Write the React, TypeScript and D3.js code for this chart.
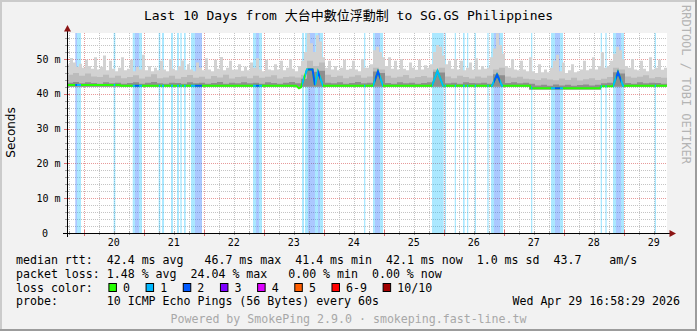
import React from 'react';
import * as d3 from 'd3';

const W = 697;
const H = 331;
const PLOT_L = 67;
const PLOT_R = 667;
const PLOT_T = 33;
const PLOT_B = 233;
const DAY_START = 19.72;
const DAY_END = 29.72;
const Y_MAX = 57.47;

const dayLabels = [20, 21, 22, 23, 24, 25, 26, 27, 28, 29];
const yTickValues = [0, 10, 20, 30, 40, 50];
const yTickLabels = ['0', '10 m', '20 m', '30 m', '40 m', '50 m'];

// median rtt breakpoints (day of month, ms)
const medianDays = [19.72, 20.603, 20.62, 23.537, 23.587, 23.62, 23.72, 23.812, 23.853, 23.903, 23.987, 24.82, 24.903, 24.987, 25.803, 25.895, 25.987, 26.803, 26.887, 26.97, 27.437, 27.453, 28.603, 28.62, 28.82, 28.903, 28.987, 29.72];
const medianMs = [42.5, 42.5, 42.3, 42.3, 41.6, 41.9, 47.0, 47.0, 42.5, 46.3, 42.3, 42.3, 46.4, 42.3, 42.3, 46.5, 42.3, 42.3, 45.5, 42.3, 42.3, 41.6, 41.6, 42.2, 42.2, 46.2, 42.3, 42.3];

// packet loss periods (day start, day end, lost pings of 10)
const lossStart = [19.858, 19.887, 20.498, 20.815, 20.853, 20.92, 21.248, 21.303, 21.453, 21.553, 21.608, 21.67, 21.787, 21.853, 22.82, 22.87, 22.92, 23.637, 23.687, 23.737, 23.853, 23.903, 23.937, 24.67, 24.82, 24.853, 24.937, 25.803, 26.015, 26.182, 26.32, 26.387, 26.515, 26.725, 26.787, 26.837, 26.937, 27.453, 27.787, 27.853, 27.937, 28.615, 28.692, 28.82, 28.87, 28.953, 29.515];
const lossEnd = [19.887, 19.953, 20.525, 20.853, 20.92, 20.97, 21.275, 21.337, 21.487, 21.587, 21.632, 21.698, 21.853, 21.97, 22.87, 22.92, 22.97, 23.67, 23.737, 23.853, 23.903, 23.937, 23.987, 24.692, 24.853, 24.937, 24.987, 25.998, 26.037, 26.203, 26.348, 26.408, 26.537, 26.748, 26.837, 26.937, 26.987, 27.475, 27.853, 27.937, 27.987, 28.637, 28.715, 28.87, 28.953, 29.003, 29.537];
const lossLevel = [2, 1, 1, 1, 2, 1, 1, 1, 1, 1, 1, 1, 1, 2, 1, 2, 1, 1, 1, 2, 1, 2, 1, 1, 1, 2, 1, 1, 1, 1, 1, 1, 1, 1, 1, 2, 1, 1, 1, 2, 1, 1, 1, 1, 2, 1, 1];

// smoke: max ping per bin (200 bins over the 10 days)
const smokeMax = [
  48.5, 50.3, 49.0, 47.8, 48.6, 47.5, 49.8, 48.0, 47.2, 50.5,
  47.0, 47.8, 51.0, 46.8, 49.5, 47.2, 46.5, 47.5, 50.5, 46.8,
  47.2, 49.8, 46.5, 47.8, 47.0, 51.2, 46.8, 48.0, 46.5, 47.5,
  46.8, 49.5, 47.0, 46.5, 50.0, 47.2, 46.8, 48.0, 49.6, 46.9,
  48.5, 47.0, 46.5, 49.0, 47.5, 46.8, 50.2, 47.0, 46.5, 49.8,
  47.2, 50.6, 46.8, 47.5, 49.5, 46.9, 47.0, 48.5, 46.6, 47.8,
  46.8, 49.0, 47.5, 50.2, 47.0, 46.5, 49.8, 47.0, 46.8, 48.5,
  47.0, 49.5, 46.8, 47.5, 50.0, 47.2, 46.5, 48.0, 49.5, 52.0,
  57.4, 54.5, 52.0, 56.8, 55.0, 50.5, 47.5, 49.5, 47.0, 48.0,
  46.8, 47.5, 49.8, 46.9, 47.2, 49.5, 47.0, 46.5, 50.0, 47.5,
  47.5, 48.5, 52.5, 53.5, 52.0, 50.5, 48.0, 50.5, 47.2, 49.5,
  47.0, 50.0, 47.2, 46.8, 49.0, 47.5, 46.9, 49.8, 47.0, 48.2,
  47.5, 48.5, 52.0, 54.0, 53.5, 51.0, 48.5, 49.5, 47.2, 50.0,
  47.0, 49.5, 46.8, 47.5, 49.0, 46.9, 50.2, 47.0, 48.0, 47.2,
  47.5, 50.5, 53.0, 57.4, 54.0, 51.5, 48.0, 47.5, 50.0, 47.0,
  46.8, 49.5, 47.0, 46.5, 50.5, 46.5, 46.0, 48.5, 46.2, 47.0,
  46.2, 47.5, 49.5, 51.2, 46.5, 49.0, 46.0, 46.8, 48.5, 46.2,
  46.5, 47.0, 49.5, 46.8, 47.2, 50.5, 47.0, 48.0, 52.0, 47.5,
  48.0, 49.5, 51.5, 53.5, 52.5, 50.0, 48.0, 47.5, 50.0, 47.0,
  46.8, 49.5, 47.2, 46.5, 50.5, 47.0, 47.5, 49.8, 46.9, 47.5,
];

// smoke: upper-middle pings (100 bins)
const smokeMid = [
  45.5, 46.0, 45.2, 45.8, 45.0, 44.8, 45.5, 44.6, 45.2, 44.5,
  44.8, 45.3, 44.4, 44.9, 45.6, 44.5, 44.7, 45.2, 44.3, 44.8,
  45.4, 44.6, 44.9, 44.3, 45.1, 44.7, 45.5, 44.4, 44.8, 45.0,
  44.5, 45.2, 44.6, 44.9, 45.3, 44.4, 44.8, 45.0, 44.7, 45.5,
  49.5, 48.0, 49.0, 45.5, 44.8, 45.2, 44.5, 44.9, 45.3, 44.6,
  45.0, 47.5, 47.0, 45.2, 44.6, 44.9, 45.4, 44.5, 44.8, 45.1,
  44.7, 47.0, 47.5, 45.0, 44.5, 45.2, 44.8, 44.4, 45.0, 44.6,
  45.2, 47.0, 47.5, 45.0, 44.6, 44.9, 44.3, 44.2, 44.0, 44.5,
  44.1, 43.9, 44.4, 44.0, 44.6, 43.8, 44.2, 44.5, 44.0, 44.3,
  44.8, 47.5, 47.0, 45.0, 44.6, 44.9, 45.3, 44.5, 44.8, 44.6,
];

// smoke: pings close to the median (100 bins)
const smokeDark = [
  43.2, 43.4, 43.0, 43.3, 43.1, 42.9, 43.3, 43.0, 43.2, 42.9,
  43.1, 43.3, 42.9, 43.2, 43.4, 43.0, 42.9, 43.2, 43.1, 42.9,
  43.3, 43.0, 43.2, 42.9, 43.1, 43.4, 42.9, 43.2, 43.0, 43.3,
  43.0, 43.2, 42.9, 43.3, 43.1, 42.9, 43.2, 43.4, 43.0, 44.3,
  47.3, 46.3, 46.6, 43.2, 43.0, 43.3, 42.9, 43.1, 43.4, 43.0,
  43.2, 46.4, 46.0, 43.1, 42.9, 43.3, 43.0, 43.2, 42.9, 43.1,
  43.3, 46.3, 46.1, 43.0, 43.2, 42.9, 43.3, 43.1, 43.0, 43.2,
  42.9, 45.6, 45.3, 43.1, 43.3, 43.0, 43.2, 42.9, 42.4, 42.6,
  42.3, 42.7, 42.4, 42.6, 42.3, 42.5, 42.7, 42.4, 42.6, 43.0,
  43.2, 46.2, 45.8, 43.1, 42.9, 43.3, 43.0, 43.2, 43.1, 42.9,
];

// smoke: min ping (100 bins)
const smokeMin = [
  42.0, 42.0, 42.0, 42.0, 42.0, 42.0, 42.0, 42.0, 42.0, 42.0,
  42.0, 42.0, 42.0, 42.0, 42.0, 42.0, 42.0, 42.0, 42.0, 42.0,
  42.0, 42.0, 42.0, 42.0, 42.0, 42.0, 42.0, 42.0, 42.0, 42.0,
  42.0, 42.0, 42.0, 42.0, 42.0, 42.0, 42.0, 42.0, 42.0, 42.0,
  42.0, 42.0, 42.0, 42.0, 42.0, 42.0, 42.0, 42.0, 42.0, 42.0,
  42.0, 42.0, 42.0, 42.0, 42.0, 42.0, 42.0, 42.0, 42.0, 42.0,
  42.0, 42.0, 42.0, 42.0, 42.0, 42.0, 42.0, 42.0, 42.0, 42.0,
  42.0, 42.0, 42.0, 42.0, 42.0, 42.0, 42.0, 41.2, 41.2, 41.2,
  41.2, 41.2, 41.2, 41.2, 41.2, 41.2, 41.2, 41.2, 41.2, 42.0,
  42.0, 42.0, 42.0, 42.0, 42.0, 42.0, 42.0, 42.0, 42.0, 42.0,
];

const lossColors = ['#26ff00', '#00b8ff', '#0059ff', '#7e00ff', '#dd00ff', '#ff5e00', '#ff0000', '#a10000'];
const lossLabels = ['0', '1', '2', '3', '4', '5', '6-9', '10/10'];

const statsRtt = ['42.4 ms avg', '46.7 ms max', '41.4 ms min', '42.1 ms now', '1.0 ms sd', '43.7', 'am/s'];
const statsRttCols = [13, 27, 40, 53, 66, 77, 85];
const statsLoss = ['1.48 % avg', '24.04 % max', '0.00 % min', '0.00 % now'];
const statsLossCols = [13, 25, 39, 51];

const MONO = "'DejaVu Sans Mono', 'Noto Sans CJK TC', monospace";
const CW = 6.98;

export default function App() {
  const x = d3.scaleLinear().domain([DAY_START, DAY_END]).range([PLOT_L, PLOT_R]);
  const y = d3.scaleLinear().domain([0, Y_MAX]).range([PLOT_B, PLOT_T]);

  const area = d3
    .area<{ t: number; lo: number; hi: number }>()
    .curve(d3.curveStepAfter)
    .x((d) => x(d.t))
    .y0((d) => y(d.lo))
    .y1((d) => y(d.hi));

  const nMax = smokeMax.length;
  const nMid = smokeMid.length;
  const maxRows = smokeMax.map((v, i) => ({
    t: DAY_START + (i * (DAY_END - DAY_START)) / nMax,
    lo: smokeMin[Math.floor((i * nMid) / nMax)],
    hi: v,
  }));
  maxRows.push({ ...maxRows[maxRows.length - 1], t: DAY_END });
  const midRows = smokeMid.map((v, i) => ({
    t: DAY_START + (i * (DAY_END - DAY_START)) / nMid,
    lo: smokeMin[i],
    hi: v,
  }));
  midRows.push({ ...midRows[midRows.length - 1], t: DAY_END });
  const darkRows = smokeDark.map((v, i) => ({
    t: DAY_START + (i * (DAY_END - DAY_START)) / nMid,
    lo: smokeMin[i],
    hi: v,
  }));
  darkRows.push({ ...darkRows[darkRows.length - 1], t: DAY_END });

  const medianPts: [number, number][] = medianDays.map((d, i) => [d, medianMs[i]]);
  const line = d3
    .line<[number, number]>()
    .x((d) => x(d[0]))
    .y((d) => y(d[1]));
  const medianPath = line(medianPts) || '';

  // grid
  const hMinor = d3.range(2, Y_MAX, 2).filter((v) => v % 10 !== 0);
  const hMajor = yTickValues.filter((v) => v > 0);
  const vMinor = d3.range(Math.ceil(DAY_START * 4) / 4, DAY_END, 0.25).filter((v) => Math.abs(v - Math.round(v)) > 1e-6);
  const vMajor = dayLabels;
  const px = (v: number) => Math.round(v) + 0.5;

  const arrowColor = '#8c1414';

  // legend layout
  const boxX: number[] = [];
  let bx = 108.4;
  lossLabels.forEach((l) => {
    boxX.push(bx);
    bx += 14.6 + l.length * CW + 15.6;
  });

  const rowBase = [263.9, 277.5, 291.5, 305.2];

  return (
    <svg width={W} height={H} style={{ position: 'absolute', left: 0, top: 0 }} xmlns="http://www.w3.org/2000/svg">
      <defs>
        {lossStart.map((s, i) => (
          <clipPath id={`lc${i}`} key={i}>
            <rect x={x(s)} y={PLOT_T - 5} width={x(lossEnd[i]) - x(s)} height={PLOT_B - PLOT_T + 10} />
          </clipPath>
        ))}
      </defs>
      {/* background and 3D border */}
      <rect x={0} y={0} width={W} height={H} fill="#f2f2f2" />
      <rect x={0} y={0} width={W} height={2} fill="#cbcbcb" />
      <rect x={0} y={0} width={2} height={H} fill="#cbcbcb" />
      <rect x={W - 2} y={0} width={2} height={H} fill="#9c9c9c" />
      <rect x={0} y={H - 2} width={W} height={2} fill="#9c9c9c" />

      {/* canvas */}
      <rect x={PLOT_L} y={PLOT_T} width={PLOT_R - PLOT_L} height={PLOT_B - PLOT_T} fill="#ffffff" />

      {/* grid */}
      <g shapeRendering="crispEdges" strokeWidth={1}>
        {hMinor.map((v) => (
          <line key={`hm${v}`} x1={PLOT_L} x2={PLOT_R} y1={px(y(v))} y2={px(y(v))} stroke="#c4c4c4" strokeDasharray="1,1" />
        ))}
        {vMinor.map((v) => (
          <line key={`vm${v}`} x1={px(x(v))} x2={px(x(v))} y1={PLOT_T} y2={PLOT_B} stroke="#c4c4c4" strokeDasharray="1,1" />
        ))}
        {hMajor.map((v) => (
          <line key={`hM${v}`} x1={PLOT_L} x2={PLOT_R} y1={px(y(v))} y2={px(y(v))} stroke="#e89a9a" strokeDasharray="1,1" />
        ))}
        {vMajor.map((v) => (
          <line key={`vM${v}`} x1={px(x(v))} x2={px(x(v))} y1={PLOT_T} y2={PLOT_B} stroke="#e89a9a" strokeDasharray="1,1" />
        ))}
      </g>

      {/* loss stripes */}
      <g>
        {lossStart.map((s, i) => (
          <rect
            key={`ls${i}`}
            x={x(s)}
            y={PLOT_T}
            width={x(lossEnd[i]) - x(s)}
            height={PLOT_B - PLOT_T}
            fill={lossColors[lossLevel[i]]}
            fillOpacity={0.33}
          />
        ))}
      </g>

      {/* smoke */}
      <path d={area(maxRows) || ''} fill="#d2d2d2" />
      <path d={area(midRows) || ''} fill="#bcbcbc" />
      <path d={area(darkRows) || ''} fill="#8e8e8e" />

      {/* median */}
      <path d={medianPath} fill="none" stroke={lossColors[0]} strokeWidth={2} />
      {lossStart.map((s, i) => (
        <path key={`ml${i}`} d={medianPath} fill="none" stroke={lossColors[lossLevel[i]]} strokeWidth={2} clipPath={`url(#lc${i})`} />
      ))}

      {/* axis ticks */}
      <g shapeRendering="crispEdges">
        {vMinor.map((v) => (
          <line key={`xt${v}`} x1={px(x(v))} x2={px(x(v))} y1={PLOT_B - 2} y2={PLOT_B + 2} stroke="#a0a0a0" />
        ))}
        {vMajor.map((v) => (
          <line key={`xT${v}`} x1={px(x(v))} x2={px(x(v))} y1={PLOT_B - 3} y2={PLOT_B + 3} stroke="#e07070" />
        ))}
        {hMinor.map((v) => (
          <line key={`yt${v}`} x1={PLOT_L - 2} x2={PLOT_L + 2} y1={px(y(v))} y2={px(y(v))} stroke="#a0a0a0" />
        ))}
        {hMajor.map((v) => (
          <line key={`yT${v}`} x1={PLOT_L - 3} x2={PLOT_L + 3} y1={px(y(v))} y2={px(y(v))} stroke="#e07070" />
        ))}
      </g>

      {/* axes */}
      <g shapeRendering="crispEdges">
        <line x1={63} x2={670} y1={PLOT_B + 0.5} y2={PLOT_B + 0.5} stroke="#000" />
        <line x1={PLOT_L + 0.5} x2={PLOT_L + 0.5} y1={237} y2={30} stroke="#000" />
      </g>
      <polygon points={`${PLOT_L + 0.5},25 ${PLOT_L - 3},31.5 ${PLOT_L + 4},31.5`} fill={arrowColor} />
      <polygon points={`676,${PLOT_B + 0.5} 669.5,${PLOT_B - 3} 669.5,${PLOT_B + 4}`} fill={arrowColor} />

      {/* y labels */}
      {yTickValues.map((v, i) => (
        <text
          key={`yl${v}`}
          x={v === 0 ? 48 : 60.5}
          y={y(v) + 3.6}
          fontFamily={MONO}
          fontSize={10}
          textAnchor="end"
          fill="#000"
        >
          {yTickLabels[i]}
        </text>
      ))}

      {/* x labels */}
      {dayLabels.map((d) => (
        <text key={`xl${d}`} x={x(d + 0.5)} y={246.2} fontFamily={MONO} fontSize={10} textAnchor="middle" fill="#000">
          {String(d)}
        </text>
      ))}

      {/* title */}
      <text x={348.5} y={19.5} fontFamily={MONO} fontSize={13} textAnchor="middle" fill="#000">
        Last 10 Days from 大台中數位浮動制 to SG.GS Philippines
      </text>

      {/* y axis title */}
      <text
        transform="translate(15,132.5) rotate(-90)"
        fontFamily="'DejaVu Sans', sans-serif"
        fontSize={12}
        textAnchor="middle"
        fill="#000"
      >
        Seconds
      </text>

      {/* watermark */}
      <text transform="translate(682,5) rotate(90)" fontFamily={MONO} fontSize={12} fill="#b4b4b4">
        RRDTOOL / TOBI OETIKER
      </text>

      {/* legend */}
      <g fontFamily={MONO} fontSize={11.6} fill="#000">
        <text x={16} y={rowBase[0]}>median rtt:</text>
        {statsRtt.map((s, i) => (
          <text key={`sr${i}`} x={16 + statsRttCols[i] * CW} y={rowBase[0]}>
            {s}
          </text>
        ))}
        <text x={16} y={rowBase[1]}>packet loss:</text>
        {statsLoss.map((s, i) => (
          <text key={`sl${i}`} x={16 + statsLossCols[i] * CW} y={rowBase[1]}>
            {s}
          </text>
        ))}
        <text x={16} y={rowBase[2]}>loss color:</text>
        {lossLabels.map((l, i) => (
          <g key={`lg${i}`}>
            <rect x={boxX[i] + 0.5} y={283.5} width={7.5} height={8} fill={lossColors[i]} stroke="#000" strokeWidth={1} />
            <text x={boxX[i] + 14.6} y={rowBase[2]}>
              {l}
            </text>
          </g>
        ))}
        <text x={16} y={rowBase[3]}>probe:</text>
        <text x={16 + 13 * CW} y={rowBase[3]}>10 ICMP Echo Pings (56 Bytes) every 60s</text>
        <text x={680} y={rowBase[3]} textAnchor="end">
          Wed Apr 29 16:58:29 2026
        </text>
        <text x={348.5} y={322.5} textAnchor="middle" fill="#a8a8a8">
          Powered by SmokePing 2.9.0 · smokeping.fast-line.tw
        </text>
      </g>
    </svg>
  );
}
